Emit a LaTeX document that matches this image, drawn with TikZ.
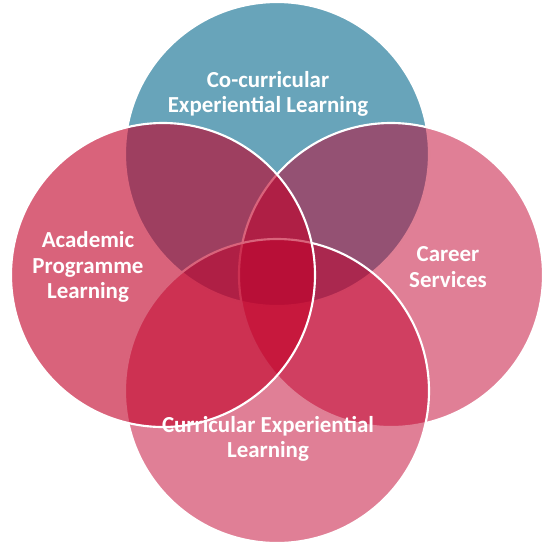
\documentclass[tikz,border=0pt]{standalone}
\usepackage{fontspec}
\setmainfont{Carlito}
\definecolor{vennteal}{RGB}{104,164,186}
\definecolor{venncrimson}{RGB}{193,0,45}
\definecolor{venndeep}{RGB}{193,0,40}
\begin{document}
\begin{tikzpicture}[x=0.75pt,y=-0.75pt,
  ring/.style={draw=white, line width=1.6pt},
  lbl/.style={text=white, font=\fontsize{17.2}{18.9}\selectfont\bfseries, align=center, inner sep=0pt}]
\useasboundingbox (0,0) rectangle (543,544);
% circles, drawn clockwise from the top so later ones lie over earlier ones
\path[ring, fill=vennteal] (277,154) circle[radius=152];
\path[ring, fill=venncrimson, fill opacity=0.5] (391,275) circle[radius=152];
\path[ring, fill=venncrimson, fill opacity=0.5] (277,391) circle[radius=152];
\path[ring, fill=venndeep, fill opacity=0.61] (163,275) circle[radius=152];
% labels
\node[lbl] (cocurr) at (268,94) {Co-curricular\\Experiential Learning};
\node[lbl] (career) at (448,267) {Career\\Services};
\node[lbl] (curr) at (268,439) {Curricular Experiential\\Learning};
\node[lbl] (acad) at (88,267) {Academic\\Programme\\Learning};
\end{tikzpicture}
\end{document}
